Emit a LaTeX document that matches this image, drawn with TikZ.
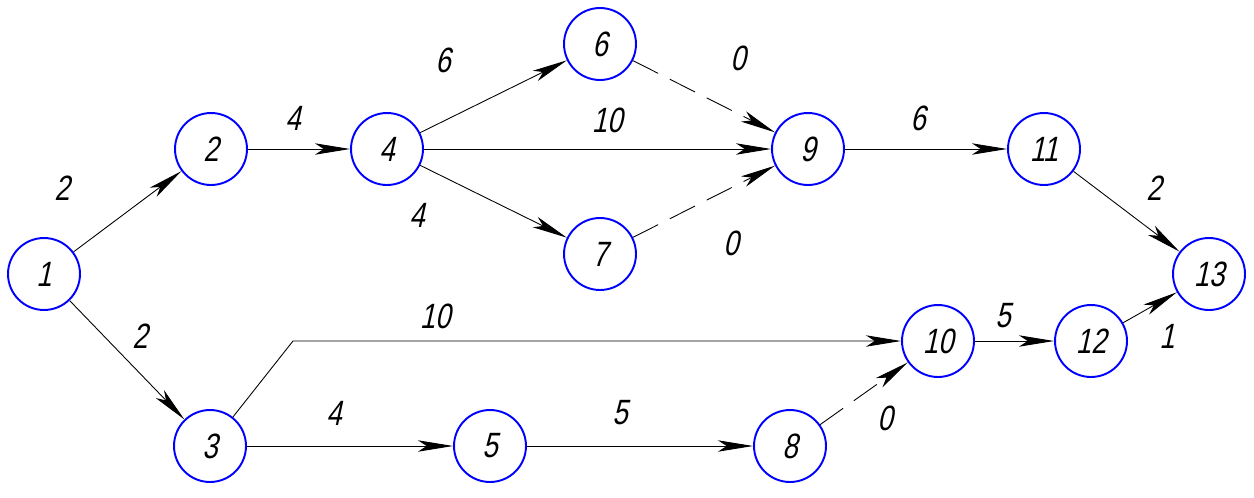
\documentclass[tikz,border=0pt]{standalone}
\usepackage{fontspec}
\newfontfamily\gostfont[FakeStretch=0.78,FakeSlant=0.22]{Liberation Sans}
\usetikzlibrary{arrows.meta}

\begin{document}
\begin{tikzpicture}[x=0.02cm,y=-0.02cm,->,>={Stealth[length=20pt,width=6.5pt,inset=5pt]},line width=0.5pt,
  main node/.style={circle,draw=blue,line width=1.1pt,minimum size=1.44cm,inner sep=0pt,font=\gostfont\fontsize{20}{20}\selectfont},
  weight/.style={font=\gostfont\fontsize{20}{20}\selectfont},
  dummy/.style={dash pattern=on 16pt off 7.5pt}]
  \useasboundingbox (0,0) rectangle (1254,497);
  \node[main node] (1) at (44,274) {1};
  \node[main node] (2) at (211,149) {2};
  \node[main node] (3) at (210,446) {3};
  \node[main node] (4) at (387,149) {4};
  \node[main node] (5) at (490,446) {5};
  \node[main node] (6) at (600,44) {6};
  \node[main node] (7) at (600,254) {7};
  \node[main node] (8) at (790,446) {8};
  \node[main node] (9) at (808,149) {9};
  \node[main node] (10) at (938,341) {10};
  \node[main node] (11) at (1044,149) {11};
  \node[main node] (12) at (1091,341) {12};
  \node[main node] (13) at (1209,274) {13};
  \coordinate (k) at (293,341);

  % durations
  \node[weight] (w12) at (62,188) {2};
  \node[weight] (w13) at (140,336) {2};
  \node[weight] (w24) at (293,118) {4};
  \node[weight] (w46) at (443,60) {6};
  \node[weight] (w49) at (607,120) {10};
  \node[weight] (w47) at (417,215) {4};
  \node[weight] (w69) at (738,58) {0};
  \node[weight] (w79) at (731,243) {0};
  \node[weight] (w911) at (918,118) {6};
  \node[weight] (w1113) at (1154,188) {2};
  \node[weight] (w310) at (435,316) {10};
  \node[weight] (w35) at (334,413) {4};
  \node[weight] (w58) at (620,413) {5};
  \node[weight] (w810) at (885,418) {0};
  \node[weight] (w1012) at (1003,316) {5};
  \node[weight] (w1213) at (1167,336) {1};

\path
  (1) edge (2)
  (1) edge (3)
  (2) edge (4)
  (4) edge (6)
  (4) edge (9)
  (4) edge (7)
  (6) edge[dummy] (9)
  (7) edge[dummy] (9)
  (9) edge (11)
  (11) edge (13)
  (3) edge (5)
  (5) edge (8)
  (8) edge[dummy] (10)
  (10) edge (12)
  (12) edge (13);
\draw (3) -- (k) -- (10);
\end{tikzpicture}
\end{document}
